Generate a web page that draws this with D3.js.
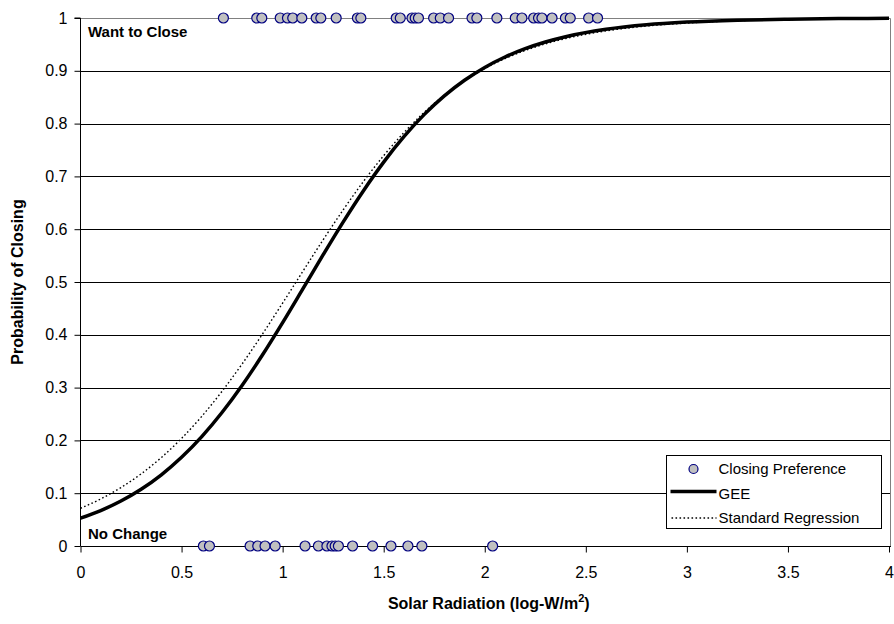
<!DOCTYPE html>
<html>
<head>
<meta charset="utf-8">
<script src="https://cdn.jsdelivr.net/npm/d3@7"></script>
<style>
  body { margin: 0; background: #fff; }
  text { font-family: "Liberation Sans", Arial, sans-serif; }
</style>
</head>
<body>
<div id="chart"></div>
<script>
// observed preferences (solar radiation, log-W/m2)
const wantToClose = [0.707, 0.872, 0.897, 0.988, 1.024, 1.05, 1.095, 1.166, 1.189, 1.265,
  1.37, 1.387, 1.562, 1.582, 1.64, 1.656, 1.672, 1.747, 1.78, 1.821, 1.937, 1.961,
  2.06, 2.151, 2.184, 2.242, 2.266, 2.283, 2.333, 2.399, 2.423, 2.514, 2.558];
const noChange = [0.608, 0.638, 0.839, 0.877, 0.913, 0.963, 1.111, 1.177, 1.219, 1.244,
  1.26, 1.276, 1.346, 1.445, 1.536, 1.62, 1.689, 2.039];

// fitted curves
const curveX = [0, 0.1, 0.2, 0.3, 0.4, 0.5, 0.6, 0.7, 0.8, 0.9, 1.0, 1.1, 1.2, 1.3, 1.4,
  1.5, 1.6, 1.7, 1.8, 1.9, 2.0, 2.1, 2.2, 2.3, 2.4, 2.6, 2.8, 3.0, 3.25, 3.5, 3.75, 4.0];
const geeY = [0.0527, 0.0671, 0.0852, 0.1075, 0.1349, 0.168, 0.2072, 0.2528, 0.3045, 0.3617,
  0.4231, 0.487, 0.5513, 0.614, 0.673, 0.7271, 0.7752, 0.817, 0.8525, 0.8821, 0.9064,
  0.9261, 0.9419, 0.9545, 0.9645, 0.9785, 0.9871, 0.9922, 0.9959, 0.9978, 0.9989, 0.9994];
const regressionY = [0.0714, 0.0891, 0.1107, 0.1366, 0.1676, 0.2038, 0.2456, 0.2929, 0.345,
  0.4012, 0.4601, 0.5201, 0.5796, 0.6368, 0.6904, 0.7393, 0.783, 0.8211, 0.8538, 0.8813,
  0.9042, 0.9231, 0.9385, 0.951, 0.9611, 0.9756, 0.9848, 0.9905, 0.9948, 0.9971, 0.9984, 0.9991];

const xTicks = [0, 0.5, 1, 1.5, 2, 2.5, 3, 3.5, 4];
const yTicks = [0, 0.1, 0.2, 0.3, 0.4, 0.5, 0.6, 0.7, 0.8, 0.9, 1];

const width = 894, height = 624;
const plotLeft = 80.5, plotRight = 889, plotTop = 18, plotBottom = 546;

const svg = d3.select("#chart").append("svg")
  .attr("width", width)
  .attr("height", height);

const x = d3.scaleLinear().domain([0, 4]).range([plotLeft, plotRight]);
const y = d3.scaleLinear().domain([0, 1]).range([plotBottom, plotTop]);

// gridlines
svg.append("g")
  .selectAll("line")
  .data(yTicks.filter((d) => d > 0))
  .join("line")
  .attr("x1", plotLeft)
  .attr("x2", plotRight + 1.5)
  .attr("y1", (d) => Math.round(y(d)) + 0.5)
  .attr("y2", (d) => Math.round(y(d)) + 0.5)
  .attr("stroke", (d) => (d === 1 ? "#808080" : "#000"))
  .attr("stroke-width", 1);

// right border of plot area
svg.append("line")
  .attr("x1", Math.round(plotRight) + 1.5).attr("x2", Math.round(plotRight) + 1.5)
  .attr("y1", Math.round(plotTop) + 0.5).attr("y2", plotBottom)
  .attr("stroke", "#808080");

// axes
const yAxis = svg.append("g")
  .attr("transform", `translate(${plotLeft},0)`)
  .call(d3.axisLeft(y).tickValues(yTicks).tickSize(6).tickPadding(7)
    .tickFormat((d) => d3.format("")(d)));
const xAxis = svg.append("g")
  .attr("transform", `translate(0,${Math.round(plotBottom) + 0.5})`)
  .call(d3.axisBottom(x).tickValues(xTicks).tickSize(6).tickPadding(14)
    .tickFormat((d) => d3.format("")(d)));

[yAxis, xAxis].forEach((g) => {
  g.select(".domain").attr("stroke", "#000");
  g.selectAll(".tick line").attr("stroke", "#000");
  g.selectAll(".tick text")
    .attr("font-size", 16)
    .attr("fill", "#000")
    .style("font-family", "'Liberation Sans', Arial, sans-serif");
});
yAxis.select(".domain").attr("d", `M-6,${plotTop}H0V${plotBottom}`);
xAxis.select(".domain").attr("d", `M${plotLeft},0H${plotRight + 2}`);

// curves
const line = d3.line()
  .x((d) => x(d[0]))
  .y((d) => y(d[1]))
  .curve(d3.curveMonotoneX);

svg.append("path")
  .datum(curveX.map((v, i) => [v, regressionY[i]]))
  .attr("fill", "none")
  .attr("stroke", "#000")
  .attr("stroke-width", 1.4)
  .attr("stroke-dasharray", "1.6,2.4")
  .attr("d", line);

svg.append("path")
  .datum(curveX.map((v, i) => [v, geeY[i]]))
  .attr("fill", "none")
  .attr("stroke", "#000")
  .attr("stroke-width", 3.5)
  .attr("d", line);

// points
const pts = svg.append("g");
pts.selectAll("circle.close")
  .data(wantToClose)
  .join("circle")
  .attr("class", "close")
  .attr("cx", (d) => x(d))
  .attr("cy", y(1))
  .attr("r", 5)
  .attr("fill", "#c0c0c0")
  .attr("stroke", "#000080")
  .attr("stroke-width", 1.2);
pts.selectAll("circle.none")
  .data(noChange)
  .join("circle")
  .attr("class", "none")
  .attr("cx", (d) => x(d))
  .attr("cy", y(0))
  .attr("r", 5)
  .attr("fill", "#c0c0c0")
  .attr("stroke", "#000080")
  .attr("stroke-width", 1.2);

// annotations
svg.append("text")
  .attr("x", 88).attr("y", 37)
  .attr("font-size", 15).attr("font-weight", "bold")
  .text("Want to Close");
svg.append("text")
  .attr("x", 88).attr("y", 539)
  .attr("font-size", 15).attr("font-weight", "bold")
  .text("No Change");

// axis titles
const xTitle = svg.append("text")
  .attr("x", (plotLeft + plotRight) / 2 + 4)
  .attr("y", 609)
  .attr("text-anchor", "middle")
  .attr("font-size", 16)
  .attr("font-weight", "bold");
xTitle.append("tspan").text("Solar Radiation (log-W/m");
xTitle.append("tspan").attr("font-size", 11).attr("dy", -7).text("2");
xTitle.append("tspan").attr("dy", 7).text(")");

svg.append("text")
  .attr("transform", `translate(23,${(plotTop + plotBottom) / 2}) rotate(-90)`)
  .attr("text-anchor", "middle")
  .attr("font-size", 16)
  .attr("font-weight", "bold")
  .text("Probability of Closing");

// legend
const legend = svg.append("g").attr("transform", "translate(666.5,455.5)");
legend.append("rect")
  .attr("width", 215).attr("height", 73)
  .attr("fill", "#fff").attr("stroke", "#000");
legend.append("circle")
  .attr("cx", 27).attr("cy", 13.5).attr("r", 4.5)
  .attr("fill", "#c0c0c0").attr("stroke", "#000080").attr("stroke-width", 1.2);
legend.append("line")
  .attr("x1", 4).attr("x2", 50).attr("y1", 36).attr("y2", 36)
  .attr("stroke", "#000").attr("stroke-width", 3.5);
legend.append("line")
  .attr("x1", 5).attr("x2", 50).attr("y1", 62.5).attr("y2", 62.5)
  .attr("stroke", "#000").attr("stroke-width", 1.4).attr("stroke-dasharray", "1.6,2.4");
const legendLabels = ["Closing Preference", "GEE", "Standard Regression"];
legend.selectAll("text.lab")
  .data(legendLabels)
  .join("text")
  .attr("class", "lab")
  .attr("x", 52)
  .attr("y", (d, i) => 18.5 + i * 24.5)
  .attr("font-size", 15)
  .text((d) => d);
</script>
</body>
</html>
